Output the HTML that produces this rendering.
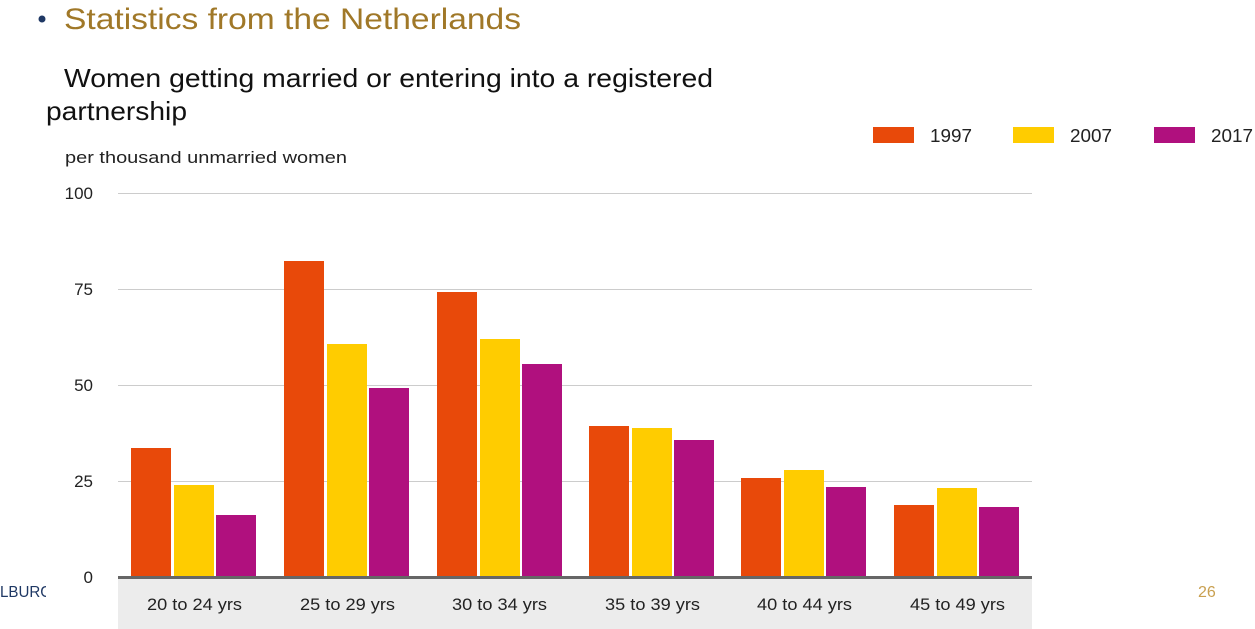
<!DOCTYPE html>
<html><head><meta charset="utf-8"><style>
html,body{margin:0;padding:0;background:#fff;}
body{width:1255px;height:629px;overflow:hidden;position:relative;font-family:"Liberation Sans",Arial,sans-serif;}
</style></head><body>
<svg width="1255" height="629" xmlns="http://www.w3.org/2000/svg" style="position:absolute;left:0;top:0;font-family:'Liberation Sans',Arial,sans-serif">
<circle cx="42" cy="19" r="3.5" fill="#1f3864"/>
<text x="64" y="29" font-size="30" fill="#a07828" textLength="457" lengthAdjust="spacingAndGlyphs">Statistics from the Netherlands</text>
<text x="64" y="87" font-size="26" fill="#111" textLength="649" lengthAdjust="spacingAndGlyphs">Women getting married or entering into a registered</text>
<text x="46" y="120" font-size="26" fill="#111" textLength="141" lengthAdjust="spacingAndGlyphs">partnership</text>
<text x="65" y="163" font-size="17" fill="#222" textLength="282" lengthAdjust="spacingAndGlyphs">per thousand unmarried women</text>
<rect x="873" y="127" width="41" height="16" fill="#e8490a"/><text x="930" y="142" font-size="18" fill="#222" textLength="42" lengthAdjust="spacingAndGlyphs">1997</text>
<rect x="1013" y="127" width="41" height="16" fill="#ffcc00"/><text x="1070" y="142" font-size="18" fill="#222" textLength="42" lengthAdjust="spacingAndGlyphs">2007</text>
<rect x="1154" y="127" width="41" height="16" fill="#b0107e"/><text x="1211" y="142" font-size="18" fill="#222" textLength="42" lengthAdjust="spacingAndGlyphs">2017</text>
<g stroke="#cccccc" stroke-width="1">
<line x1="118" y1="193.5" x2="1032" y2="193.5"/>
<line x1="118" y1="289.5" x2="1032" y2="289.5"/>
<line x1="118" y1="385.5" x2="1032" y2="385.5"/>
<line x1="118" y1="481.5" x2="1032" y2="481.5"/>
</g>
<g font-size="17" fill="#222" text-anchor="end">
<text x="93" y="199">100</text><text x="93" y="295">75</text><text x="93" y="391">50</text><text x="93" y="487">25</text><text x="93" y="583">0</text>
</g>
<rect x="118" y="577" width="914" height="52" fill="#ececec"/>
<g>
<rect x="131" y="448" width="40" height="129" fill="#e8490a"/><rect x="174" y="485" width="40" height="92" fill="#ffcc00"/><rect x="216" y="515" width="40" height="62" fill="#b0107e"/>
<rect x="284" y="261" width="40" height="316" fill="#e8490a"/><rect x="327" y="344" width="40" height="233" fill="#ffcc00"/><rect x="369" y="388" width="40" height="189" fill="#b0107e"/>
<rect x="437" y="292" width="40" height="285" fill="#e8490a"/><rect x="480" y="339" width="40" height="238" fill="#ffcc00"/><rect x="522" y="364" width="40" height="213" fill="#b0107e"/>
<rect x="589" y="426" width="40" height="151" fill="#e8490a"/><rect x="632" y="428" width="40" height="149" fill="#ffcc00"/><rect x="674" y="440" width="40" height="137" fill="#b0107e"/>
<rect x="741" y="478" width="40" height="99" fill="#e8490a"/><rect x="784" y="470" width="40" height="107" fill="#ffcc00"/><rect x="826" y="487" width="40" height="90" fill="#b0107e"/>
<rect x="894" y="505" width="40" height="72" fill="#e8490a"/><rect x="937" y="488" width="40" height="89" fill="#ffcc00"/><rect x="979" y="507" width="40" height="70" fill="#b0107e"/>
</g>
<rect x="118" y="576" width="914" height="3" fill="#666"/>
<g font-size="17" fill="#222">
<text x="147" y="610" textLength="95" lengthAdjust="spacingAndGlyphs">20 to 24 yrs</text>
<text x="300" y="610" textLength="95" lengthAdjust="spacingAndGlyphs">25 to 29 yrs</text>
<text x="452" y="610" textLength="95" lengthAdjust="spacingAndGlyphs">30 to 34 yrs</text>
<text x="605" y="610" textLength="95" lengthAdjust="spacingAndGlyphs">35 to 39 yrs</text>
<text x="757" y="610" textLength="95" lengthAdjust="spacingAndGlyphs">40 to 44 yrs</text>
<text x="910" y="610" textLength="95" lengthAdjust="spacingAndGlyphs">45 to 49 yrs</text>
</g>
<text x="0" y="597" font-size="16" fill="#1f3864" textLength="52" lengthAdjust="spacingAndGlyphs">LBURG</text>
<rect x="46" y="580" width="20" height="22" fill="#fff"/>
<text x="1198" y="597" font-size="16" fill="#c9a050">26</text>
</svg>
</body></html>
